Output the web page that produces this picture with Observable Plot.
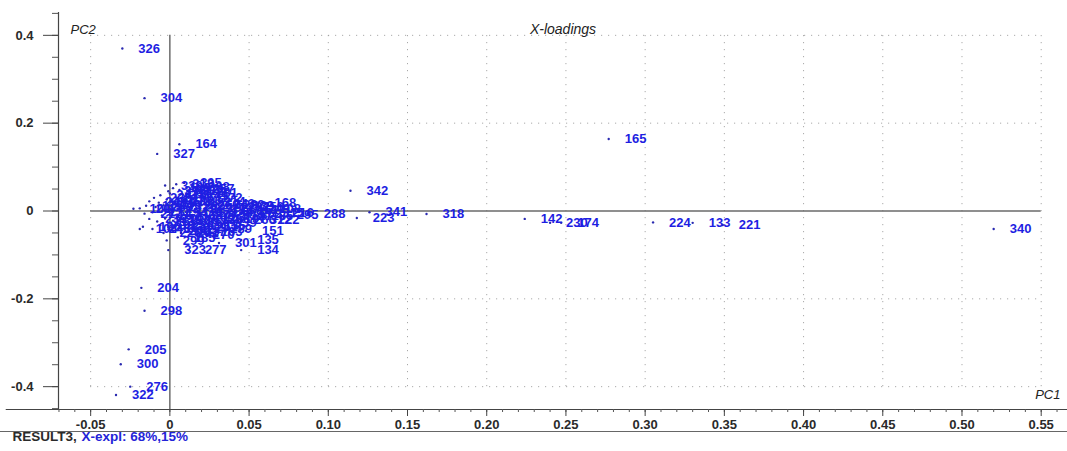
<!DOCTYPE html>
<html>
<head>
<meta charset="utf-8">
<script src="https://cdn.jsdelivr.net/npm/d3@7"></script>
<script src="https://cdn.jsdelivr.net/npm/@observablehq/plot@0.6"></script>
<style>
  html, body { margin: 0; padding: 0; background: #fff; }
  #chart svg { display: block; }
</style>
</head>
<body>
<div id="chart"></div>
<script>
// ---- Data: X-loadings, PC1 vs PC2 ----
// Isolated, clearly readable variables
const outlierIds = [326, 304, 327, 164, 165, 342, 288, 223, 341, 318, 142, 230, 174, 224, 133, 221, 340, 204, 298, 205, 300, 276, 322];
const outlierPC1 = [-0.030, -0.016, -0.008, 0.006, 0.277, 0.114, 0.087, 0.118, 0.126, 0.162, 0.224, 0.240, 0.247, 0.305, 0.330, 0.349, 0.520, -0.018, -0.016, -0.026, -0.031, -0.025, -0.034];
const outlierPC2 = [0.370, 0.257, 0.130, 0.152, 0.164, 0.046, -0.006, -0.016, -0.003, -0.007, -0.018, -0.027, -0.027, -0.026, -0.027, -0.032, -0.041, -0.175, -0.227, -0.315, -0.349, -0.400, -0.419];

// Dense cluster near the origin (estimated)
const clusterIds = [330, 305, 313, 208, 317, 297, 112, 257, 189, 241, 118, 263, 149, 281, 106, 172, 235,
  207, 101, 248, 110, 157, 275, 126, 183, 243, 214, 292, 168, 139, 256,
  115, 269, 146, 231, 179, 302, 123, 260, 198, 137, 284, 161, 249, 108,
  212, 131, 267, 154, 236, 119, 287, 171, 253, 144, 308, 127, 262, 186, 315, 216, 295,
  239, 113, 274, 150, 228, 177, 309, 130, 258, 339, 197, 266, 312, 222,
  190, 102, 245, 153, 280, 121, 199, 251, 136, 289, 151,
  202, 192, 117, 270, 163, 226, 185, 299, 323, 277, 301, 135, 134, 104];
const clusterPC1 = [-0.003, 0.009, 0.004, 0.014, -0.001, 0.006, 0.011, 0.017, 0.002, -0.006, 0.000, 0.008, 0.013, 0.019, 0.004, 0.022, -0.010,
  -0.019, -0.023, -0.013, -0.007, -0.002, 0.003, 0.009, 0.015, 0.030, 0.024, 0.036, 0.056, 0.042, 0.048,
  -0.015, -0.009, -0.004, 0.001, 0.006, 0.011, 0.016, 0.020, 0.026, 0.033, 0.039, 0.045, 0.052, 0.059,
  -0.016, -0.011, -0.005, 0.000, 0.005, 0.010, 0.014, 0.019, 0.024, 0.029, 0.035, 0.041, 0.047, 0.054, 0.061, 0.067, 0.070,
  -0.013, -0.008, -0.003, 0.002, 0.007, 0.012, 0.017, 0.022, 0.027, 0.031, 0.037, 0.043, 0.053, 0.058,
  -0.017, -0.006, -0.011, -0.001, 0.004, 0.009, 0.014, 0.019, 0.024, 0.028, 0.048,
  0.002, 0.007, 0.012, 0.017, 0.022, -0.004, 0.005, -0.002, -0.001, 0.012, 0.031, 0.045, 0.045, -0.019];
const clusterPC2 = [0.058, 0.064, 0.061, 0.055, 0.045, 0.048, 0.046, 0.050, 0.052, 0.036, 0.040, 0.038, 0.034, 0.041, 0.031, 0.030, 0.030,
  0.006, 0.005, 0.022, 0.019, 0.026, 0.021, 0.024, 0.018, 0.017, 0.022, 0.014, 0.018, 0.012, 0.010,
  0.012, 0.009, 0.013, 0.010, 0.006, 0.011, 0.004, 0.013, 0.008, 0.005, 0.009, 0.003, 0.006, 0.004,
  -0.006, -0.003, -0.010, -0.004, -0.012, -0.002, -0.009, -0.005, -0.013, -0.003, -0.008, -0.012, -0.006, -0.010, -0.005, -0.004, -0.009,
  -0.018, -0.024, -0.017, -0.022, -0.019, -0.026, -0.016, -0.021, -0.018, -0.027, -0.017, -0.021, -0.020, -0.021,
  -0.036, -0.032, -0.041, -0.038, -0.033, -0.040, -0.031, -0.037, -0.034, -0.041, -0.045,
  -0.045, -0.050, -0.047, -0.054, -0.048, -0.050, -0.060, -0.067, -0.089, -0.089, -0.073, -0.066, -0.089, -0.041];

// Axes
const xTicks = [-0.05, 0, 0.05, 0.10, 0.15, 0.20, 0.25, 0.30, 0.35, 0.40, 0.45, 0.50, 0.55];
const xTickLabels = ["-0.05", "0", "0.05", "0.10", "0.15", "0.20", "0.25", "0.30", "0.35", "0.40", "0.45", "0.50", "0.55"];
const yTicks = [-0.4, -0.2, 0, 0.2, 0.4];
const yTickLabels = ["-0.4", "-0.2", "0", "0.2", "0.4"];
const yGrid = [-0.4, -0.2, 0.2, 0.4];

const titleText = "X-loadings";
const xName = "PC1";
const yName = "PC2";
const footerName = "RESULT3,";
const footerInfo = "X-expl: 68%,15%";

// ---- Build ----
const points = [
  ...outlierIds.map((id, i) => ({id, pc1: outlierPC1[i], pc2: outlierPC2[i]})),
  ...clusterIds.map((id, i) => ({id, pc1: clusterPC1[i], pc2: clusterPC2[i]}))
];

const xDomain = [-0.0703, 0.5666];
const yDomain = [-0.452, 0.452];
const xMinor = d3.range(-7, 57).map(k => k / 100);
const yMinor = d3.range(-9, 10).map(k => k * 0.05);
const gridX = xTicks.filter(d => d !== 0);
const blue = "#1e1ee2";
const axisColor = "#333";

const chart = Plot.plot({
  width: 1067,
  height: 451,
  marginTop: 12,
  marginBottom: 42,
  marginLeft: 58,
  marginRight: 0,
  x: {domain: xDomain},
  y: {domain: yDomain},
  style: {fontFamily: "'Liberation Sans', Arial, sans-serif", fontSize: "12px", background: "#fff", color: axisColor},
  marks: [
    // dotted grid
    Plot.ruleX(gridX, {y1: yTicks[0], y2: yTicks[yTicks.length - 1], stroke: "#9a9a9a", strokeDasharray: "1,6"}),
    Plot.ruleY(yGrid, {x1: xTicks[0], x2: xTicks[xTicks.length - 1], stroke: "#9a9a9a", strokeDasharray: "1,6"}),
    // origin lines
    Plot.ruleY([0], {x1: xTicks[0], x2: xTicks[xTicks.length - 1], stroke: "#6a6a6a", strokeWidth: 1.6}),
    Plot.ruleX([0], {y1: yTicks[yTicks.length - 1], y2: yDomain[0], stroke: "#555", strokeWidth: 1.3}),
    // frame axis lines
    Plot.ruleX([xDomain[0]], {y1: yDomain[0], y2: yDomain[1], stroke: "#444", strokeWidth: 1.2}),
    Plot.ruleY([yDomain[0]], {x1: xDomain[0] - 0.033, x2: xDomain[1], stroke: "#444", strokeWidth: 1.2}),
    Plot.ruleY([yDomain[0]], {x1: xDomain[0] - 0.04, x2: xDomain[1], dy: 22, stroke: "#666", strokeWidth: 1.2}),
    // axes
    Plot.axisX({anchor: "bottom", ticks: xMinor, tickSize: 3, tickFormat: () => "", label: null, stroke: "#555"}),
    Plot.axisX({anchor: "bottom", ticks: xTicks, tickSize: 7, tickPadding: 3, tickFormat: d => xTickLabels[xTicks.indexOf(d)],
      label: null, fontSize: 13, fontWeight: "bold", fill: "#2a2a2a", stroke: "#444"}),
    Plot.axisY({anchor: "left", ticks: yMinor, tickSize: 6, tickFormat: () => "", label: null, stroke: "#555"}),
    Plot.axisY({anchor: "left", ticks: yTicks, tickSize: 15, tickPadding: 10, tickFormat: d => yTickLabels[yTicks.indexOf(d)],
      label: null, fontSize: 13, fontWeight: "bold", fill: "#2a2a2a", stroke: "#444"}),
    // points and labels
    Plot.dot(points, {x: "pc1", y: "pc2", r: 1.2, fill: "#2a2ab0", stroke: null}),
    Plot.text(points, {x: "pc1", y: "pc2", text: "id", dx: 16, textAnchor: "start", fontSize: 13, fontWeight: "bold", fill: blue}),
    // titles
    Plot.text([titleText], {text: d => d, frameAnchor: "top", dy: 11.5, fontSize: 14, fontStyle: "italic", fill: "#222"}),
    Plot.text([yName], {text: d => d, frameAnchor: "top-left", dx: 12, dy: 12.5, textAnchor: "start", fontSize: 13, fontStyle: "italic", fill: "#222"}),
    Plot.text([xName], {text: d => d, frameAnchor: "bottom-right", dx: -7, dy: -11, textAnchor: "end", fontSize: 13, fontStyle: "italic", fill: "#222"}),
    // footer
    Plot.text([footerName], {text: d => d, frameAnchor: "bottom-left", dx: -46, dy: 31, textAnchor: "start", fontSize: 13.5, fontWeight: "bold", fill: "#2a2a2a"}),
    Plot.text([footerInfo], {text: d => d, frameAnchor: "bottom-left", dx: 23, dy: 31, textAnchor: "start", fontSize: 13.5, fontWeight: "bold", fill: "#2424d8"})
  ]
});

document.getElementById("chart").append(chart);
</script>
</body>
</html>
